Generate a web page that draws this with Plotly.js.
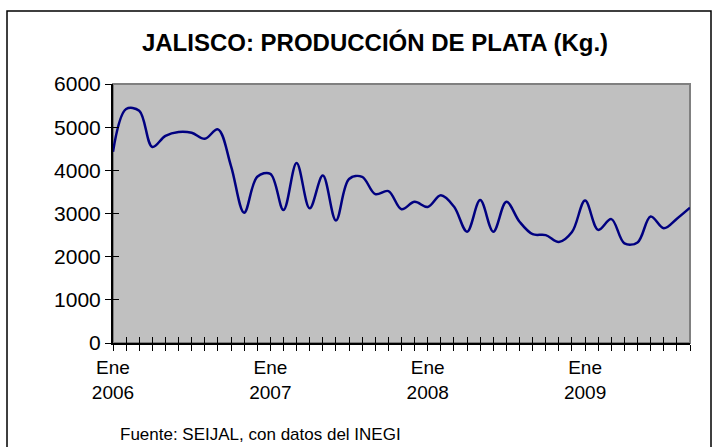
<!DOCTYPE html>
<html>
<head>
<meta charset="utf-8">
<script src="https://cdn.plot.ly/plotly-3.0.1.min.js"></script>
<style>
  html, body { margin: 0; padding: 0; background: #ffffff; }
  #chart { width: 717px; height: 447px; }
</style>
</head>
<body>
<div id="chart"></div>
<script>
// ---- Data ----
const monthNames = ['Ene','Feb','Mar','Abr','May','Jun','Jul','Ago','Sep','Oct','Nov','Dic'];
const years = [2006, 2007, 2008, 2009];
const produccion = [
  4430, 5420, 5380, 4540, 4800, 4890, 4870, 4730, 4950, 4100, 3020, 3850,
  3920, 3080, 4170, 3120, 3880, 2840, 3800, 3850, 3450, 3520, 3100, 3270,
  3150, 3420, 3160, 2580, 3310, 2580, 3270, 2810, 2520, 2500, 2340, 2570,
  3300, 2620, 2870, 2310, 2330, 2930, 2660, 2880, 3135
];
const titleText = 'JALISCO: PRODUCCIÓN DE PLATA (Kg.)';
const sourceText = 'Fuente: SEIJAL, con datos del INEGI';

// ---- Build month labels & ticks ----
const months = [];
years.forEach(y => monthNames.forEach(m => months.push(m + ' ' + y)));
const n = produccion.length;
const xIdx = produccion.map((_, i) => i);
const tickText = xIdx.map(i => {
  const [m, y] = months[i].split(' ');
  return m === 'Ene' ? m + '<br>' + y : '';
});

const trace = {
  x: xIdx,
  y: produccion,
  text: months.slice(0, n),
  type: 'scatter',
  mode: 'lines',
  line: { color: '#000080', width: 2.5, shape: 'spline', smoothing: 1 },
  hoverinfo: 'text+y'
};

// placeholder trace (no visible mark) so the overlaying tick axes are drawn
const tickAxesTrace = {
  x: [null], y: [null], type: 'scatter', mode: 'lines',
  xaxis: 'x2', yaxis: 'y2', hoverinfo: 'skip', showlegend: false
};

const fontFam = 'Arial, "Liberation Sans", sans-serif';

const layout = {
  width: 717,
  height: 447,
  margin: { l: 113, r: 27, t: 84, b: 104 },
  paper_bgcolor: '#ffffff',
  plot_bgcolor: '#c0c0c0',
  showlegend: false,
  font: { family: fontFam, color: '#000000' },
  title: {
    text: '<b>' + titleText + '</b>',
    font: { family: fontFam, size: 24, color: '#000000' },
    xref: 'container', yref: 'container',
    x: 0.523, y: 0.904, xanchor: 'center', yanchor: 'middle'
  },
  xaxis: {
    range: [0, n - 1],
    tickmode: 'array',
    tickvals: xIdx,
    ticktext: tickText,
    ticks: 'outside', ticklen: 6, tickwidth: 1, tickcolor: '#000000',
    showline: true, linecolor: '#000000', linewidth: 2,
    showgrid: false, zeroline: false,
    tickfont: { family: fontFam, size: 19, color: '#000000' },
    fixedrange: true
  },
  xaxis2: {
    overlaying: 'x', anchor: 'y2', side: 'bottom',
    range: [0, n - 1],
    tickmode: 'array',
    tickvals: xIdx,
    ticks: 'inside', ticklen: 6, tickwidth: 1, tickcolor: '#000000',
    showticklabels: false, showgrid: false, zeroline: false, showline: false,
    fixedrange: true
  },
  yaxis: {
    range: [0, 6000],
    tickmode: 'linear', tick0: 0, dtick: 1000,
    ticks: 'outside', ticklen: 6, tickwidth: 1, tickcolor: '#000000',
    showline: true, linecolor: '#000000', linewidth: 2,
    showgrid: false, zeroline: false,
    tickfont: { family: fontFam, size: 21, color: '#000000' },
    fixedrange: true
  },
  yaxis2: {
    overlaying: 'y', anchor: 'x2', side: 'left',
    range: [0, 6000],
    tickmode: 'linear', tick0: 0, dtick: 1000,
    ticks: 'inside', ticklen: 6, tickwidth: 1, tickcolor: '#000000',
    showticklabels: false, showgrid: false, zeroline: false, showline: false,
    fixedrange: true
  },
  shapes: [
    { type: 'rect', xref: 'paper', yref: 'paper', x0: 0, x1: 1, y0: 0, y1: 1,
      line: { color: '#808080', width: 2 }, layer: 'below' },
    { type: 'rect', xref: 'paper', yref: 'paper',
      x0: -0.1837, x1: 1.0364, y0: -0.46, y1: 1.2819,
      line: { color: '#000000', width: 1.5 }, layer: 'below' }
  ],
  annotations: [
    { text: sourceText, xref: 'paper', yref: 'paper',
      x: 0.0087, y: -0.352, xanchor: 'left', yanchor: 'middle',
      showarrow: false, font: { family: fontFam, size: 17, color: '#000000' } }
  ]
};

Plotly.newPlot('chart', [tickAxesTrace, trace], layout, { displayModeBar: false, staticPlot: true });
</script>
</body>
</html>
